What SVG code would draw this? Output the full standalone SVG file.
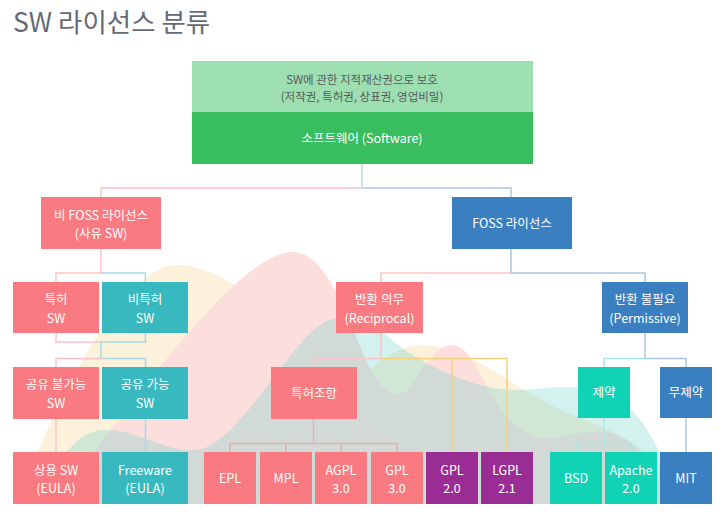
<svg xmlns="http://www.w3.org/2000/svg" width="727" height="516" viewBox="0 0 727 516">
<style>
text{font-family:"Noto Sans CJK KR","Noto Sans",sans-serif;}
.t{fill:#ffffff;font-size:12.5px;text-anchor:middle;}
.pk{fill:#f97a80;}
.tl{fill:#38b9c0;}
.bl{fill:#3a80c1;}
.pu{fill:#9a2d94;}
.tq{fill:#12d2b6;}
.c{fill:none;stroke-width:1.5;}
.cp{stroke:#fbc4c7;}
.cb{stroke:#aac8e6;}
.ct{stroke:#a6dce0;}
.cy{stroke:#f4d27c;}
.cq{stroke:#a3ebdf;}
.cg{stroke:#b1e3c2;}
.cd{stroke:#e6b1b4;}
</style>
<defs>
<clipPath id="bgclip"><rect x="0" y="0" width="727" height="504"/></clipPath>
</defs>
<rect width="727" height="516" fill="#ffffff"/>
<g id="background" clip-path="url(#bgclip)">
<path d="M15,516 C40,430 120,266 175,265 C230,264 290,330 340,370 C360,385 375,362 395,352 C415,342 430,345 450,350 C490,362 530,400 580,418 C630,436 665,460 700,516 Z" fill="#fcf1da"/>
<path d="M45,516 C120,420 235,252 293,252 C330,252 350,330 372,372 C385,395 398,402 412,385 C428,360 438,345 452,345 C470,345 482,380 495,400 C510,425 530,440 555,438 C575,434 590,430 605,432 C635,436 650,460 680,516 Z" fill="#fcdedd"/>
<path d="M35,516 C55,455 80,430 105,430 C145,430 170,458 205,448 C250,430 300,320 337,318 C365,316 385,335 405,350 C440,372 480,392 525,390 C560,386 595,384 622,402 C650,422 665,465 690,516 Z" fill="#6ccfc9" opacity="0.3"/>
</g>
<text x="13" y="32" font-size="26.5" fill="#646a76">SW 라이선스 분류</text>
<g id="connectors">
<path class="c cg" d="M362,164 V188"/>
<path class="c cp" d="M362,188 H101 V197"/>
<path class="c cb" d="M362,188 H511 V197"/>
<path class="c cp" d="M101,249 V273 H56 V282"/>
<path class="c ct" d="M101,273 H145.5 V282"/>
<path class="c cp" d="M56,333 V342 H101"/>
<path class="c ct" d="M145.5,333 V342 H101 V358.5"/>
<path class="c cp" d="M101,358.5 H56 V367"/>
<path class="c ct" d="M101,358.5 H145.5 V367"/>
<path class="c cp" d="M56,419 V452"/>
<path class="c ct" d="M145.5,419 V452"/>
<path class="c cb" d="M511,249 V273 H645 V282"/>
<path class="c cp" d="M511,273 H381 V282"/>
<path class="c cp" d="M381,333 V358.5 H313.5 V367"/>
<path class="c cy" d="M381,358.5 H507 V452 M452,358.5 V452"/>
<path class="c cd" d="M313.5,419 V443.5 M230,452 V443.5 H397 V452 M286,443.5 V452 M341,443.5 V452"/>
<path class="c cb" d="M645,333 V358.5 H686 V367"/>
<path class="c cq" d="M645,358.5 H604 V367"/>
<path class="c cq" d="M604,418 V443.5 H576 V452 M604,443.5 H631 V452"/>
<path class="c cb" d="M686,418 V452"/>
</g>
<g id="software">
<rect x="192" y="61" width="341" height="51" fill="#9ddfb1"/>
<rect x="192" y="112" width="341" height="52" fill="#38bd5f"/>
<text x="362" y="84.4" font-size="11.5" fill="#555a5c" text-anchor="middle">SW에 관한 지적재산권으로 보호</text>
<text x="362" y="101.1" font-size="11.5" fill="#555a5c" text-anchor="middle">(저작권, 특허권, 상표권, 영업비밀)</text>
<text class="t" x="362" y="142.5" font-size="13.5">소프트웨어 (Software)</text>
</g>
<g id="non-foss">
<rect class="pk" x="41" y="197" width="120" height="52"/>
<text class="t" x="101" y="219.6">비 FOSS 라이선스</text>
<text class="t" x="101" y="237.8">(사유 SW)</text>
</g>
<g id="foss">
<rect class="bl" x="452" y="197" width="120" height="52"/>
<text class="t" x="512" y="227.5">FOSS 라이선스</text>
</g>
<g id="patent-sw">
<rect class="pk" x="13" y="282" width="86" height="51"/>
<text class="t" x="56" y="304.4">특허</text>
<text class="t" x="56" y="322.6">SW</text>
</g>
<g id="nonpatent-sw">
<rect class="tl" x="102" y="282" width="86" height="51"/>
<text class="t" x="145" y="304.4">비특허</text>
<text class="t" x="145" y="322.6">SW</text>
</g>
<g id="reciprocal">
<rect class="pk" x="336" y="282" width="87" height="51"/>
<text class="t" x="379.5" y="304.4">반환 의무</text>
<text class="t" x="379.5" y="322.6">(Reciprocal)</text>
</g>
<g id="permissive">
<rect class="bl" x="602" y="282" width="86" height="51"/>
<text class="t" x="645" y="304.4">반환 불필요</text>
<text class="t" x="645" y="322.6">(Permissive)</text>
</g>
<g id="no-share">
<rect class="pk" x="13" y="367" width="86" height="52"/>
<text class="t" x="56" y="389.4">공유 불가능</text>
<text class="t" x="56" y="407.6">SW</text>
</g>
<g id="share">
<rect class="tl" x="102" y="367" width="86" height="52"/>
<text class="t" x="145" y="389.4">공유 가능</text>
<text class="t" x="145" y="407.6">SW</text>
</g>
<g id="patent-clause">
<rect class="pk" x="271" y="367" width="86" height="52"/>
<text class="t" x="314" y="397.5">특허조항</text>
</g>
<g id="restrict">
<rect class="tq" x="578" y="367" width="52" height="51"/>
<text class="t" x="604" y="397">제약</text>
</g>
<g id="no-restrict">
<rect class="bl" x="660" y="367" width="52" height="51"/>
<text class="t" x="686" y="397">무제약</text>
</g>
<g id="commercial">
<rect class="pk" x="13" y="452" width="86" height="52"/>
<text class="t" x="56" y="474.9">상용 SW</text>
<text class="t" x="56" y="493.1">(EULA)</text>
</g>
<g id="freeware">
<rect class="tl" x="102" y="452" width="86" height="52"/>
<text class="t" x="145" y="474.9">Freeware</text>
<text class="t" x="145" y="493.1">(EULA)</text>
</g>
<g id="epl">
<rect class="pk" x="204" y="452" width="52" height="52"/>
<text class="t" x="230" y="483">EPL</text>
</g>
<g id="mpl">
<rect class="pk" x="260" y="452" width="52" height="52"/>
<text class="t" x="286" y="483">MPL</text>
</g>
<g id="agpl3">
<rect class="pk" x="315" y="452" width="52" height="52"/>
<text class="t" x="341" y="474.9">AGPL</text>
<text class="t" x="341" y="493.1">3.0</text>
</g>
<g id="gpl3">
<rect class="pk" x="371" y="452" width="52" height="52"/>
<text class="t" x="397" y="474.9">GPL</text>
<text class="t" x="397" y="493.1">3.0</text>
</g>
<g id="gpl2">
<rect class="pu" x="426" y="452" width="52" height="52"/>
<text class="t" x="452" y="474.9">GPL</text>
<text class="t" x="452" y="493.1">2.0</text>
</g>
<g id="lgpl">
<rect class="pu" x="481" y="452" width="52" height="52"/>
<text class="t" x="507" y="474.9">LGPL</text>
<text class="t" x="507" y="493.1">2.1</text>
</g>
<g id="bsd">
<rect class="tq" x="550" y="452" width="52" height="52"/>
<text class="t" x="576" y="483">BSD</text>
</g>
<g id="apache">
<rect class="tq" x="605" y="452" width="52" height="52"/>
<text class="t" x="631" y="474.9">Apache</text>
<text class="t" x="631" y="493.1">2.0</text>
</g>
<g id="mit">
<rect class="bl" x="660" y="452" width="52" height="52"/>
<text class="t" x="686" y="483">MIT</text>
</g>
</svg>
